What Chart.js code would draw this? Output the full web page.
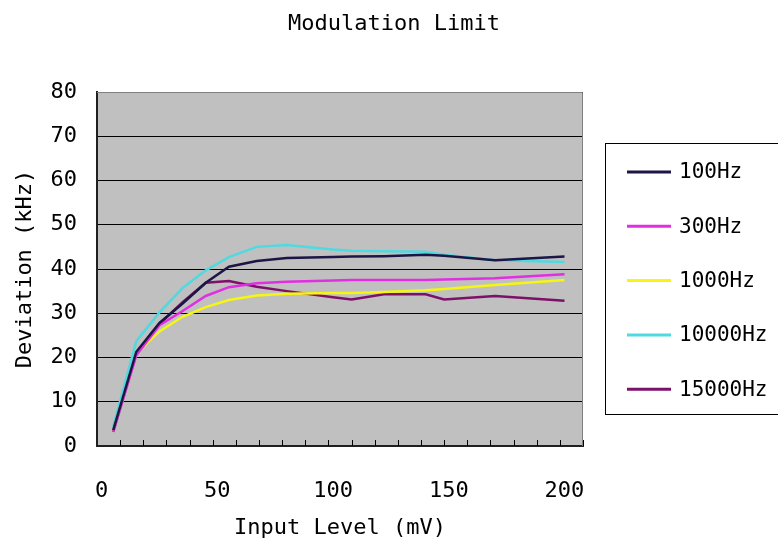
<!DOCTYPE html>
<html>
<head>
<meta charset="utf-8">
<script src="https://cdn.jsdelivr.net/npm/chart.js@4/dist/chart.umd.min.js"></script>
<style>
  body { margin: 0; background: #fff; }
  #wrap { width: 778px; height: 544px; position: relative; }
</style>
</head>
<body>
<div id="wrap"><canvas id="modChart"></canvas></div>
<script>
// data
var inputLevel = [5, 15, 25, 35, 45, 55, 67, 80, 100, 108, 122, 140, 148, 170, 200];
var hz100   = [3.6, 21.3, 27.8, 32.2, 36.9, 40.5, 41.8, 42.5, 42.7, 42.8, 42.9, 43.2, 43.0, 42.0, 42.8];
var hz300   = [3.2, 20.5, 27.3, 30.5, 33.9, 35.9, 36.8, 37.1, 37.4, 37.5, 37.5, 37.5, 37.6, 37.9, 38.8];
var hz1000  = [3.4, 20.9, 25.9, 29.2, 31.4, 33.0, 34.0, 34.4, 34.6, 34.6, 34.8, 35.2, 35.5, 36.4, 37.5];
var hz10000 = [4.4, 23.7, 30.2, 35.7, 39.7, 42.7, 45.0, 45.4, 44.4, 44.1, 44.0, 43.9, 43.2, 42.0, 41.6];
var hz15000 = [3.2, 20.9, 27.6, 32.5, 36.9, 37.3, 36.0, 35.0, 33.6, 33.1, 34.3, 34.3, 33.1, 33.9, 32.8];

var seriesNames = ["100Hz", "300Hz", "1000Hz", "10000Hz", "15000Hz"];
var seriesColors = ["#1b1645", "#e22ee2", "#f6f610", "#4fd9e0", "#7d1068"];
var xTickLabels = [0, 50, 100, 150, 200];

var FONT = "'DejaVu Sans Mono', 'Liberation Mono', monospace";

function points(values) {
    return values.map(function (v, i) { return { x: inputLevel[i], y: v }; });
}

var allSeries = [hz100, hz300, hz1000, hz10000, hz15000];

// gray plot area, border, inner tick marks, title and boxed legend
var decorate = {
    id: "decorate",
    beforeDraw(chart) {
        var ctx = chart.ctx, a = chart.chartArea;
        ctx.save();
        ctx.fillStyle = "#c0c0c0";
        ctx.fillRect(a.left, a.top, a.right - a.left, a.bottom - a.top);
        ctx.restore();
    },
    afterDraw(chart) {
        var ctx = chart.ctx, a = chart.chartArea;
        var xs = chart.scales.x;
        ctx.save();
        // top / right frame
        ctx.strokeStyle = "#808080";
        ctx.lineWidth = 1;
        ctx.beginPath();
        ctx.moveTo(a.left, a.top + 0.5);
        ctx.lineTo(a.right - 0.5, a.top + 0.5);
        ctx.lineTo(a.right - 0.5, a.bottom);
        ctx.stroke();

        // small tick marks pointing into the plot
        ctx.strokeStyle = "#000";
        ctx.beginPath();
        for (var v = xs.min + 10; v <= xs.max + 0.01; v += 10) {
            var px = Math.round(xs.getPixelForValue(v)) + 0.5;
            ctx.moveTo(px, a.bottom);
            ctx.lineTo(px, a.bottom - 6);
        }
        ctx.stroke();

        // title
        ctx.fillStyle = "#000";
        ctx.font = "22px " + FONT;
        ctx.textAlign = "center";
        ctx.textBaseline = "middle";
        ctx.fillText("Modulation Limit", 394, 24);

        // legend
        ctx.strokeStyle = "#000";
        ctx.lineWidth = 1;
        ctx.strokeRect(605.5, 143.5, 190, 271);
        ctx.font = "21px " + FONT;
        ctx.textAlign = "left";
        chart.data.datasets.forEach(function (ds, i) {
            var y = 172 + i * 54.3;
            ctx.strokeStyle = ds.borderColor;
            ctx.lineWidth = 3;
            ctx.beginPath();
            ctx.moveTo(627, y);
            ctx.lineTo(671, y);
            ctx.stroke();
            ctx.fillStyle = "#000";
            ctx.fillText(ds.label, 679, y + 1);
        });
        ctx.restore();
    }
};

var ctx = document.getElementById("modChart").getContext("2d");

new Chart(ctx, {
    type: "line",
    data: {
        datasets: allSeries.map(function (vals, i) {
            return {
                label: seriesNames[i],
                data: points(vals),
                borderColor: seriesColors[i],
                backgroundColor: seriesColors[i],
                borderWidth: 2.5,
                pointRadius: 0,
                tension: 0,
                fill: false
            };
        })
    },
    options: {
        responsive: true,
        maintainAspectRatio: false,
        animation: false,
        devicePixelRatio: 1,
        layout: { padding: { top: 92, right: 195, left: 0, bottom: 0 } },
        plugins: {
            legend: { display: false },
            title: { display: false },
            tooltip: { enabled: false }
        },
        scales: {
            x: {
                type: "linear",
                min: -2,
                max: 208,
                afterBuildTicks: function (scale) {
                    scale.ticks = xTickLabels.map(function (v) { return { value: v }; });
                },
                afterFit: function (scale) { scale.height = 98; },
                grid: { display: true, drawOnChartArea: false, drawTicks: false },
                border: { color: "#202020", width: 2 },
                ticks: {
                    color: "#000",
                    padding: 32,
                    maxRotation: 0,
                    autoSkip: false,
                    font: { family: FONT, size: 22 }
                },
                title: {
                    display: true,
                    text: "Input Level (mV)",
                    color: "#000",
                    padding: { top: 0, bottom: 3 },
                    font: { family: FONT, size: 22 }
                }
            },
            y: {
                min: 0,
                max: 80,
                afterFit: function (scale) { scale.width = 97; },
                grid: { color: "#000", lineWidth: 1, drawTicks: false },
                border: { color: "#202020", width: 2 },
                ticks: {
                    stepSize: 10,
                    color: "#000",
                    padding: 20,
                    font: { family: FONT, size: 22 }
                },
                title: {
                    display: true,
                    text: "Deviation (kHz)",
                    color: "#000",
                    padding: { top: 12, bottom: 0 },
                    font: { family: FONT, size: 22 }
                }
            }
        }
    },
    plugins: [decorate]
});
</script>
</body>
</html>
